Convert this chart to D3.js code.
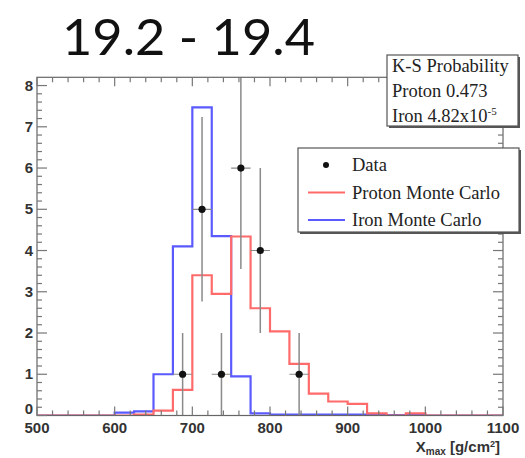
<html>
<head>
    <meta charSet="utf-8">
    <title>Xmax 19.2 - 19.4</title>
    <script src="https://d3js.org/d3.v7.min.js"></script>
    <style>
        body { margin: 0; background: #fff; }
        .serif { font-family: "Liberation Serif", serif; font-size: 18.5px; fill: #222; }
        .tick-label { font-family: "Liberation Sans", Arial, sans-serif; font-weight: bold; font-size: 15px; fill: #333; }
        .title { font-family: Lato, "DejaVu Sans", sans-serif; font-size: 51px; fill: #111; }
    </style>
</head>
<body>
<svg id="chart"></svg>
<script>
    // lower edges of the 25 g/cm2 bins
    const binEdges = [500, 525, 550, 575, 600, 625, 650, 675, 700, 725, 750, 775,
        800, 825, 850, 875, 900, 925, 950, 975, 1000, 1025, 1050, 1075];
    const protonMC = [0, 0, 0, 0, 0, 0.02, 0.12, 0.62, 3.4, 2.95, 4.34, 2.6,
        2.04, 1.25, 0.53, 0.34, 0.28, 0.05, 0, 0.05, 0, 0, 0, 0];
    const ironMC = [0, 0, 0, 0, 0.07, 0.1, 1.0, 4.1, 7.47, 4.35, 0.95, 0.05,
        0.02, 0.02, 0.02, 0.02, 0.02, 0.02, 0.01, 0.03, 0, 0, 0, 0];
    const dataX = [687.5, 712.5, 737.5, 762.5, 787.5, 837.5];
    const dataY = [1, 5, 1, 6, 4, 1];
    const xTicks = [500, 600, 700, 800, 900, 1000, 1100];
    const yTicks = [0, 1, 2, 3, 4, 5, 6, 7, 8];
    const ksLines = ["K-S Probability", "Proton 0.473", "Iron 4.82x10"];
    const legendItems = ["Data", "Proton Monte Carlo", "Iron Monte Carlo"];

    const width = 525;
    const height = 458;
    const red = "#ff6b6b";
    const blue = "#5a5aff";

    const svg = d3.select("#chart")
        .attr("width", width)
        .attr("height", height);

    const x = d3.scaleLinear().domain([500, 1100]).range([37, 503]);
    const y = d3.scaleLinear().domain([0, 8.2]).range([415.5, 77.3]);

    svg.append("clipPath").attr("id", "frame")
        .append("rect")
        .attr("x", x(500)).attr("y", y(8.2))
        .attr("width", x(1100) - x(500)).attr("height", y(0) - y(8.2));

    const plot = svg.append("g").attr("clip-path", "url(#frame)");

    // histograms
    const step = d3.line()
        .x(d => x(d[0]))
        .y(d => y(d[1]))
        .curve(d3.curveStepAfter);

    function histPoints(vals) {
        const pts = binEdges.map((e, i) => [e, vals[i]]);
        pts.push([1100, vals[vals.length - 1]]);
        return pts;
    }

    plot.append("path")
        .attr("d", step(histPoints(ironMC)))
        .attr("fill", "none")
        .attr("stroke", blue)
        .attr("stroke-width", 2.2);

    plot.append("path")
        .attr("d", step(histPoints(protonMC)))
        .attr("fill", "none")
        .attr("stroke", red)
        .attr("stroke-width", 2.2);

    // data points with sqrt(n) errors
    const pts = plot.selectAll(".pt")
        .data(dataX.map((v, i) => ({x: v, y: dataY[i]})))
        .join("g")
        .attr("class", "pt");

    pts.append("line")
        .attr("x1", d => x(d.x)).attr("x2", d => x(d.x))
        .attr("y1", d => y(Math.max(0, d.y - Math.sqrt(d.y))))
        .attr("y2", d => y(d.y + Math.sqrt(d.y)))
        .attr("stroke", "#8a8a8a").attr("stroke-width", 1.5);

    pts.append("line")
        .attr("x1", d => x(d.x - 12.5)).attr("x2", d => x(d.x + 12.5))
        .attr("y1", d => y(d.y)).attr("y2", d => y(d.y))
        .attr("stroke", "#8a8a8a").attr("stroke-width", 1.2);

    pts.append("circle")
        .attr("cx", d => x(d.x)).attr("cy", d => y(d.y))
        .attr("r", 3.6).attr("fill", "#111");

    // frame + ticks (ROOT style, ticks inside on all four sides)
    const axisColor = "#666";
    svg.append("rect")
        .attr("x", x(500)).attr("y", y(8.2))
        .attr("width", x(1100) - x(500)).attr("height", y(0) - y(8.2))
        .attr("fill", "none").attr("stroke", axisColor).attr("stroke-width", 1.2);

    const xMinor = d3.range(500, 1101, 20);
    const yMinor = d3.range(0, 8.01, 0.2);
    const tickG = svg.append("g").attr("stroke", "#777").attr("stroke-width", 1.2);

    xMinor.forEach(v => {
        const len = xTicks.includes(v) ? 9 : 5;
        tickG.append("line").attr("x1", x(v)).attr("x2", x(v))
            .attr("y1", y(0)).attr("y2", y(0) - len);
        tickG.append("line").attr("x1", x(v)).attr("x2", x(v))
            .attr("y1", y(8.2)).attr("y2", y(8.2) + len);
    });
    yMinor.forEach(v => {
        const major = Math.abs(v - Math.round(v)) < 1e-6;
        const len = major ? 10 : 5;
        tickG.append("line").attr("x1", x(500)).attr("x2", x(500) + len)
            .attr("y1", y(v)).attr("y2", y(v));
        tickG.append("line").attr("x1", x(1100)).attr("x2", x(1100) - len)
            .attr("y1", y(v)).attr("y2", y(v));
    });

    svg.selectAll(".xl")
        .data(xTicks)
        .join("text")
        .attr("class", "tick-label")
        .attr("x", d => x(d)).attr("y", 433)
        .attr("text-anchor", "middle")
        .text(d => d);

    svg.selectAll(".yl")
        .data(yTicks)
        .join("text")
        .attr("class", "tick-label")
        .attr("x", 33)
        .attr("y", d => d === 0 ? y(d) - 2 : y(d) + 5)
        .attr("text-anchor", "end")
        .text(d => d);

    const xt = svg.append("text")
        .attr("class", "tick-label")
        .attr("x", 500).attr("y", 452)
        .attr("text-anchor", "end");
    xt.append("tspan").text("X");
    xt.append("tspan").attr("dy", 3).style("font-size", "10px").text("max");
    xt.append("tspan").attr("dy", -3).text(" [g/cm");
    xt.append("tspan").attr("dy", -5).style("font-size", "9px").text("2");
    xt.append("tspan").attr("dy", 5).text("]");

    // title
    svg.append("rect")
        .attr("x", 0).attr("y", 0).attr("width", 326).attr("height", 63)
        .attr("fill", "#fff");
    svg.append("text")
        .attr("class", "title")
        .attr("x", 62).attr("y", 55)
        .attr("textLength", 253)
        .attr("lengthAdjust", "spacingAndGlyphs")
        .text("19.2 - 19.4");

    // K-S box
    function shadowBox(x0, y0, w, h) {
        svg.append("rect").attr("x", x0 + 2).attr("y", y0 + 2)
            .attr("width", w).attr("height", h).attr("fill", "#555");
        svg.append("rect").attr("x", x0).attr("y", y0)
            .attr("width", w).attr("height", h)
            .attr("fill", "#fff").attr("stroke", "#555").attr("stroke-width", 1.2);
    }

    shadowBox(387, 55, 131, 71);
    ksLines.forEach((t, i) => {
        const tx = svg.append("text")
            .attr("class", "serif")
            .attr("x", 392).attr("y", 72 + i * 25)
            .text(t);
        if (i === 2) {
            tx.append("tspan").attr("dy", -7).style("font-size", "11px").text("-5");
        }
    });

    // legend
    shadowBox(298, 148, 221, 84);
    legendItems.forEach((t, i) => {
        const ly = 165 + i * 27.5;
        if (i === 0) {
            svg.append("circle").attr("cx", 326).attr("cy", ly).attr("r", 3).attr("fill", "#111");
        } else {
            svg.append("line").attr("x1", 308).attr("x2", 345)
                .attr("y1", ly).attr("y2", ly)
                .attr("stroke", i === 1 ? red : blue).attr("stroke-width", 2);
        }
        svg.append("text")
            .attr("class", "serif")
            .attr("x", 352).attr("y", ly + 6)
            .text(t);
    });
</script>
</body>
</html>
